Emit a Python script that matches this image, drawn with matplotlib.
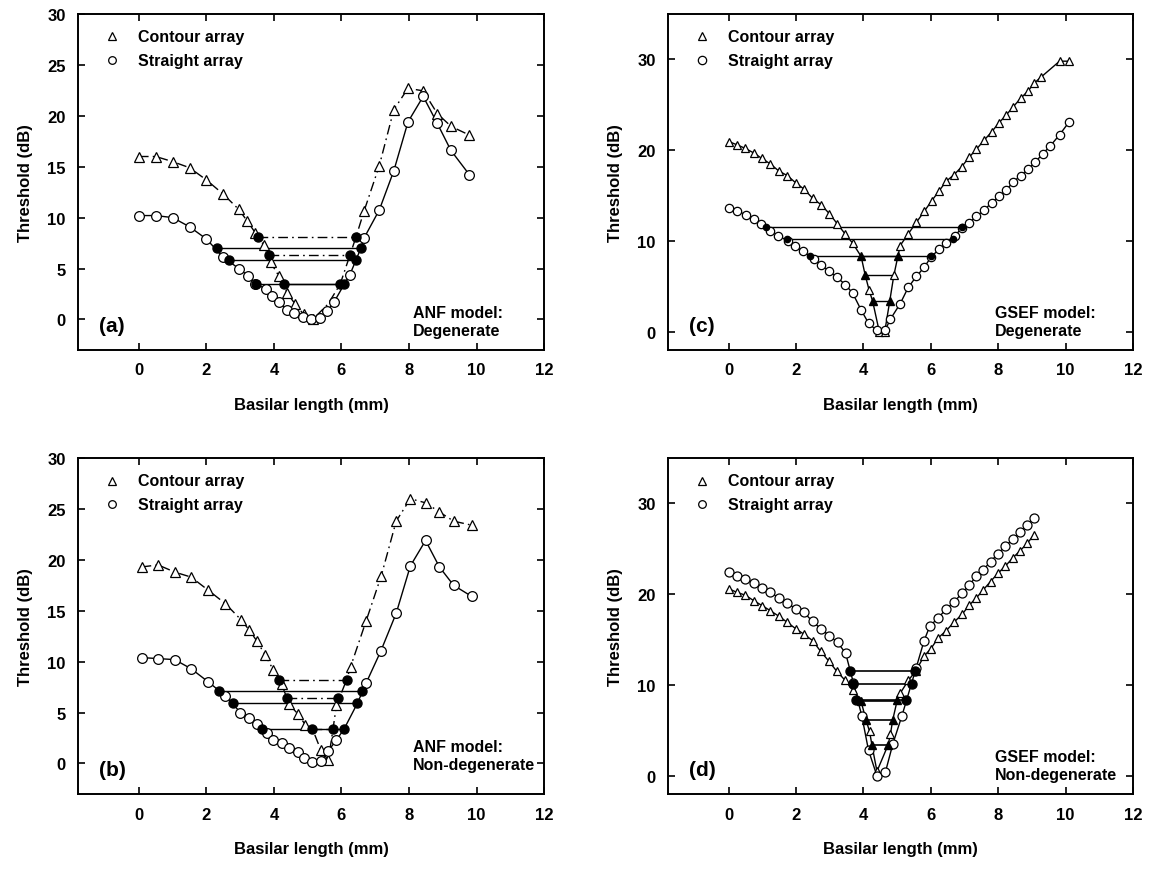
import matplotlib
matplotlib.use("Agg")
import matplotlib.pyplot as plt

plt.rcParams["font.family"] = ["Liberation Sans", "DejaVu Sans"]
plt.rcParams["font.weight"] = "bold"

# ---------- panel (a): ANF model, degenerate ----------
a_con_x = [0, 0.5, 1.0, 1.5, 2.0, 2.5, 2.96, 3.2, 3.45, 3.7, 3.9, 4.14, 4.39, 4.63, 4.88, 5.15,
           5.6, 5.96, 6.25, 6.43, 6.67, 7.12, 7.55, 7.97, 8.42, 8.84, 9.25, 9.79]
a_con_y = [16.0, 16.0, 15.5, 14.9, 13.7, 12.3, 10.8, 9.7, 8.5, 7.3, 5.6, 4.3, 2.6, 1.5, 0.5, 0.0,
           1.5, 3.45, 6.3, 8.1, 10.65, 15.1, 20.6, 22.7, 22.45, 20.2, 18.95, 18.1]
a_con_hidden = [16, 17, 18, 19]
a_str_x = [0, 0.5, 1.0, 1.5, 2.0, 2.5, 2.96, 3.23, 3.45, 3.76, 3.95, 4.15, 4.39, 4.6, 4.85, 5.1,
           5.37, 5.57, 5.78, 6.08, 6.25, 6.43, 6.58, 6.67, 7.12, 7.55, 7.97, 8.42, 8.83, 9.24, 9.79]
a_str_y = [10.2, 10.2, 10.0, 9.1, 7.9, 6.1, 5.0, 4.3, 3.5, 3.0, 2.3, 1.7, 0.9, 0.6, 0.2, 0.0,
           0.1, 0.8, 1.7, 3.45, 4.4, 5.83, 7.05, 8.0, 10.75, 14.6, 19.4, 21.9, 19.3, 16.6, 14.2]
a_str_hidden = [19, 21, 22]
a_lvl_y = [8.13, 7.05, 6.3, 5.83, 3.45, 3.45]
a_lvl_x0 = [3.52, 2.3, 3.84, 2.66, 3.47, 4.29]
a_lvl_x1 = [6.43, 6.58, 6.25, 6.43, 5.96, 6.08]
a_lvl_contour = [True, False, True, False, False, False]

# ---------- panel (b): ANF model, non-degenerate ----------
b_con_x = [0.08, 0.57, 1.06, 1.55, 2.06, 2.56, 3.03, 3.27, 3.5, 3.74, 3.98, 4.23, 4.45, 4.7, 4.93,
           5.14, 5.39, 5.61, 5.75, 5.85, 6.15, 6.27, 6.73, 7.18, 7.62, 8.04, 8.49, 8.9, 9.32, 9.86]
b_con_y = [19.3, 19.5, 18.8, 18.3, 17.0, 15.7, 14.1, 13.1, 12.0, 10.65, 9.2, 7.8, 5.8, 4.9, 3.8,
           3.4, 1.3, 0.3, 3.4, 5.7, 8.2, 9.5, 14.0, 18.45, 23.8, 26.0, 25.6, 24.7, 23.8, 23.4]
b_con_hidden = [15, 18, 20]
b_str_x = [0.08, 0.57, 1.06, 1.55, 2.06, 2.56, 3.01, 3.25, 3.5, 3.78, 3.98, 4.23, 4.45, 4.7, 4.9,
           5.14, 5.39, 5.6, 5.85, 6.08, 6.47, 6.73, 7.16, 7.62, 8.04, 8.49, 8.9, 9.32, 9.86]
b_str_y = [10.4, 10.3, 10.2, 9.3, 8.0, 6.65, 5.0, 4.5, 3.9, 2.95, 2.3, 2.0, 1.5, 1.15, 0.55,
           0.15, 0.2, 1.2, 2.3, 3.4, 5.9, 7.9, 11.0, 14.75, 19.4, 21.9, 19.3, 17.5, 16.4]
b_str_hidden = [19, 20]
b_lvl_y = [8.2, 7.1, 6.45, 5.9, 3.4, 3.4]
b_lvl_x0 = [4.16, 2.37, 4.4, 2.78, 3.65, 5.14]
b_lvl_x1 = [6.15, 6.62, 5.91, 6.47, 6.08, 5.75]
b_lvl_contour = [True, False, True, False, False, True]

# ---------- panel (c): GSEF model, degenerate ----------
c_con_x = [0, 0.24, 0.49, 0.74, 0.98, 1.23, 1.49, 1.74, 1.99, 2.24, 2.49, 2.74, 2.99, 3.22, 3.45,
           3.68, 3.93, 4.05, 4.17, 4.27, 4.47, 4.63, 4.78, 4.9, 5.02, 5.09, 5.33, 5.57, 5.8, 6.02,
           6.24, 6.46, 6.69, 6.92, 7.13, 7.35, 7.58, 7.8, 8.01, 8.23, 8.45, 8.66, 8.88, 9.07, 9.27,
           9.82, 10.1]
c_con_y = [20.95, 20.6, 20.2, 19.7, 19.1, 18.5, 17.7, 17.2, 16.4, 15.7, 14.7, 14.0, 13.0, 11.9, 10.8,
           9.75, 8.3, 6.25, 4.55, 3.4, 0.0, 0.0, 3.4, 6.2, 8.3, 9.5, 10.8, 12.05, 13.25, 14.4,
           15.5, 16.6, 17.3, 18.2, 19.2, 20.1, 21.1, 22.0, 22.97, 23.85, 24.8, 25.7, 26.5, 27.4, 28.05,
           29.8, 29.8]
c_con_filled = [16, 17, 19, 22, 24]
c_str_x = [0, 0.25, 0.5, 0.75, 0.97, 1.22, 1.47, 1.75, 1.97, 2.2, 2.52, 2.74, 2.99, 3.21, 3.46,
           3.68, 3.93, 4.15, 4.39, 4.64, 4.8, 5.09, 5.33, 5.57, 5.8, 6.0, 6.24, 6.46, 6.71, 6.92,
           7.13, 7.35, 7.58, 7.8, 8.01, 8.23, 8.45, 8.66, 8.88, 9.1, 9.32, 9.55, 9.82, 10.1]
c_str_y = [13.6, 13.3, 12.9, 12.4, 11.9, 11.1, 10.6, 10.0, 9.4, 8.9, 8.0, 7.36, 6.65, 6.0, 5.2,
           4.25, 2.4, 0.95, 0.15, 0.15, 1.4, 3.1, 4.9, 6.1, 7.1, 8.2, 9.1, 9.8, 10.6, 11.4,
           12.0, 12.7, 13.4, 14.2, 14.9, 15.6, 16.5, 17.2, 17.9, 18.7, 19.6, 20.5, 21.7, 23.1]
c_lvl_y = [11.5, 10.2, 8.3, 8.3, 6.25, 3.4]
c_lvl_x0 = [1.12, 1.72, 2.4, 3.93, 4.05, 4.27]
c_lvl_x1 = [6.92, 6.65, 6.0, 5.02, 4.9, 4.78]
c_lvl_contour = [False, False, False, True, True, True]

# ---------- panel (d): GSEF model, non-degenerate ----------
d_con_x = [0, 0.25, 0.49, 0.74, 0.99, 1.23, 1.5, 1.74, 1.99, 2.23, 2.49, 2.73, 2.98, 3.21, 3.46,
           3.7, 3.93, 4.07, 4.18, 4.25, 4.4, 4.73, 4.8, 4.87, 5.0, 5.09, 5.33, 5.56, 5.8, 6.0,
           6.22, 6.46, 6.68, 6.93, 7.14, 7.35, 7.56, 7.77, 7.99, 8.21, 8.43, 8.65, 8.86, 9.05]
d_con_y = [20.6, 20.2, 19.9, 19.3, 18.75, 18.2, 17.55, 16.9, 16.2, 15.6, 14.9, 13.7, 12.6, 11.5, 10.5,
           9.4, 8.2, 6.2, 4.9, 3.4, 0.5, 3.4, 4.6, 6.2, 8.3, 9.1, 10.5, 11.6, 13.2, 14.0,
           15.2, 16.0, 16.9, 17.8, 18.8, 19.6, 20.5, 21.4, 22.3, 23.1, 24.0, 24.8, 25.6, 26.5]
d_con_filled = [16, 17, 19, 21, 23, 24]
d_str_x = [0, 0.25, 0.49, 0.74, 0.99, 1.23, 1.5, 1.74, 1.99, 2.23, 2.49, 2.73, 2.98, 3.23, 3.47,
           3.7, 3.95, 4.15, 4.4, 4.65, 4.87, 5.14, 5.56, 5.8, 5.97, 6.22, 6.46, 6.68, 6.93, 7.14,
           7.35, 7.56, 7.77, 7.99, 8.21, 8.43, 8.65, 8.86, 9.05]
d_str_y = [22.4, 22.0, 21.7, 21.25, 20.7, 20.2, 19.6, 19.0, 18.4, 18.0, 17.0, 16.2, 15.45, 14.7, 13.5,
           10.25, 6.6, 2.8, 0.0, 0.4, 3.5, 6.6, 11.85, 14.9, 16.5, 17.4, 18.4, 19.1, 20.15, 21.0,
           22.0, 22.7, 23.6, 24.45, 25.3, 26.05, 26.8, 27.65, 28.4]
d_lvl_y = [11.5, 10.1, 8.3, 8.2, 6.2, 3.4]
d_lvl_x0 = [3.6, 3.7, 3.77, 3.93, 4.07, 4.25]
d_lvl_x1 = [5.54, 5.44, 5.26, 5.0, 4.87, 4.73]
d_lvl_contour = [False, False, False, True, True, True]

FIG_W, FIG_H = 1153, 870
DASHDOT = (0, (7, 3, 1.2, 3))


def marcar_ejes(ax, ymax, yticks, ymin):
    ax.set_xlim(-1.8, 12)
    ax.set_ylim(ymin, ymax)
    ax.set_xticks(range(0, 13, 2))
    ax.set_yticks(yticks)
    ax.tick_params(direction="in", top=True, right=True, length=5, width=1.2,
                   labelsize=12, pad=9)
    for lbl in ax.get_xticklabels() + ax.get_yticklabels():
        lbl.set_fontweight("bold")
    for s in ax.spines.values():
        s.set_linewidth(1.4)
    ax.set_xlabel("Basilar length (mm)", fontsize=12, fontweight="bold", labelpad=14)
    ax.set_ylabel("Threshold (dB)", fontsize=12, fontweight="bold", labelpad=10)


def leyenda(ax, ms):
    ys = [0.933, 0.862]
    ax.plot([0.072], [ys[0]], marker="^", ms=ms, mfc="white", mec="black", mew=0.9,
            transform=ax.transAxes, ls="none")
    ax.plot([0.072], [ys[1]], marker="o", ms=ms, mfc="white", mec="black", mew=0.9,
            transform=ax.transAxes, ls="none")
    ax.text(0.129, ys[0], "Contour array", transform=ax.transAxes, fontsize=11.5,
            fontweight="bold", va="center")
    ax.text(0.129, ys[1], "Straight array", transform=ax.transAxes, fontsize=11.5,
            fontweight="bold", va="center")


def rotulos(ax, letra, modelo, x_mod, y_mod):
    ax.text(0.073, 0.072, letra, transform=ax.transAxes, fontsize=15, fontweight="bold",
            ha="center", va="center")
    ax.text(x_mod, y_mod, modelo, transform=ax.transAxes, fontsize=11.5,
            fontweight="bold", va="center", linespacing=1.25)


def serie(ax, x, y, ls, marker, ms, hidden=(), filled=(), zorder=3):
    ax.plot(x, y, ls=ls, color="black", lw=1.0, zorder=zorder)
    show = [i for i in range(len(x)) if i not in hidden and i not in filled]
    ax.plot([x[i] for i in show], [y[i] for i in show], ls="none", marker=marker, ms=ms,
            mfc="white", mec="black", mew=0.9, zorder=zorder + 2)
    if filled:
        ax.plot([x[i] for i in filled], [y[i] for i in filled], ls="none", marker=marker,
                ms=ms, mfc="black", mec="black", zorder=zorder + 3)


def niveles(ax, ys, x0s, x1s, contour, con_ls, dot_ms=6.5, lw=1.0, solo_rectos=False):
    for y, x0, x1, c in zip(ys, x0s, x1s, contour):
        ax.plot([x0, x1], [y, y], color="black", ls=con_ls if c else "-", lw=lw, zorder=4)
        if dot_ms and not (solo_rectos and c):
            ax.plot([x0, x1], [y, y], ls="none", marker="o", ms=dot_ms, mfc="black",
                    mec="black", zorder=6)


fig = plt.figure(figsize=(FIG_W / 100, FIG_H / 100), dpi=100)
axa = fig.add_axes([0.0677, 0.5966, 0.4042, 0.3862])
axc = fig.add_axes([0.5794, 0.5966, 0.4033, 0.3862])
axb = fig.add_axes([0.0677, 0.0862, 0.4042, 0.3862])
axd = fig.add_axes([0.5794, 0.0862, 0.4033, 0.3862])

# (a)
serie(axa, a_con_x, a_con_y, DASHDOT, "^", 7, hidden=a_con_hidden)
serie(axa, a_str_x, a_str_y, "-", "o", 7, hidden=a_str_hidden)
niveles(axa, a_lvl_y, a_lvl_x0, a_lvl_x1, a_lvl_contour, DASHDOT)
marcar_ejes(axa, 30, range(0, 31, 5), -3)
leyenda(axa, 5.5)
rotulos(axa, "(a)", "ANF model:\nDegenerate", 0.718, 0.085)

# (b)
serie(axb, b_con_x, b_con_y, DASHDOT, "^", 7, hidden=b_con_hidden)
serie(axb, b_str_x, b_str_y, "-", "o", 7, hidden=b_str_hidden)
niveles(axb, b_lvl_y, b_lvl_x0, b_lvl_x1, b_lvl_contour, DASHDOT)
marcar_ejes(axb, 30, range(0, 31, 5), -3)
leyenda(axb, 5.5)
rotulos(axb, "(b)", "ANF model:\nNon-degenerate", 0.718, 0.115)

# (c)
serie(axc, c_con_x, c_con_y, "-", "^", 6, filled=c_con_filled)
serie(axc, c_str_x, c_str_y, "-", "o", 6)
niveles(axc, c_lvl_y, c_lvl_x0, c_lvl_x1, c_lvl_contour, "-", dot_ms=4.5,
        solo_rectos=True)
marcar_ejes(axc, 35, range(0, 31, 10), -2)
leyenda(axc, 6)
rotulos(axc, "(c)", "GSEF model:\nDegenerate", 0.703, 0.085)

# (d)
serie(axd, d_con_x, d_con_y, "-", "^", 6, filled=d_con_filled)
serie(axd, d_str_x, d_str_y, "-", "o", 6.5)
niveles(axd, d_lvl_y, d_lvl_x0, d_lvl_x1, d_lvl_contour, "-", dot_ms=6.5, lw=1.2,
        solo_rectos=True)
marcar_ejes(axd, 35, range(0, 31, 10), -2)
leyenda(axd, 5.5)
rotulos(axd, "(d)", "GSEF model:\nNon-degenerate", 0.703, 0.085)

fig.savefig("out.png", dpi=100)
plt.close(fig)
